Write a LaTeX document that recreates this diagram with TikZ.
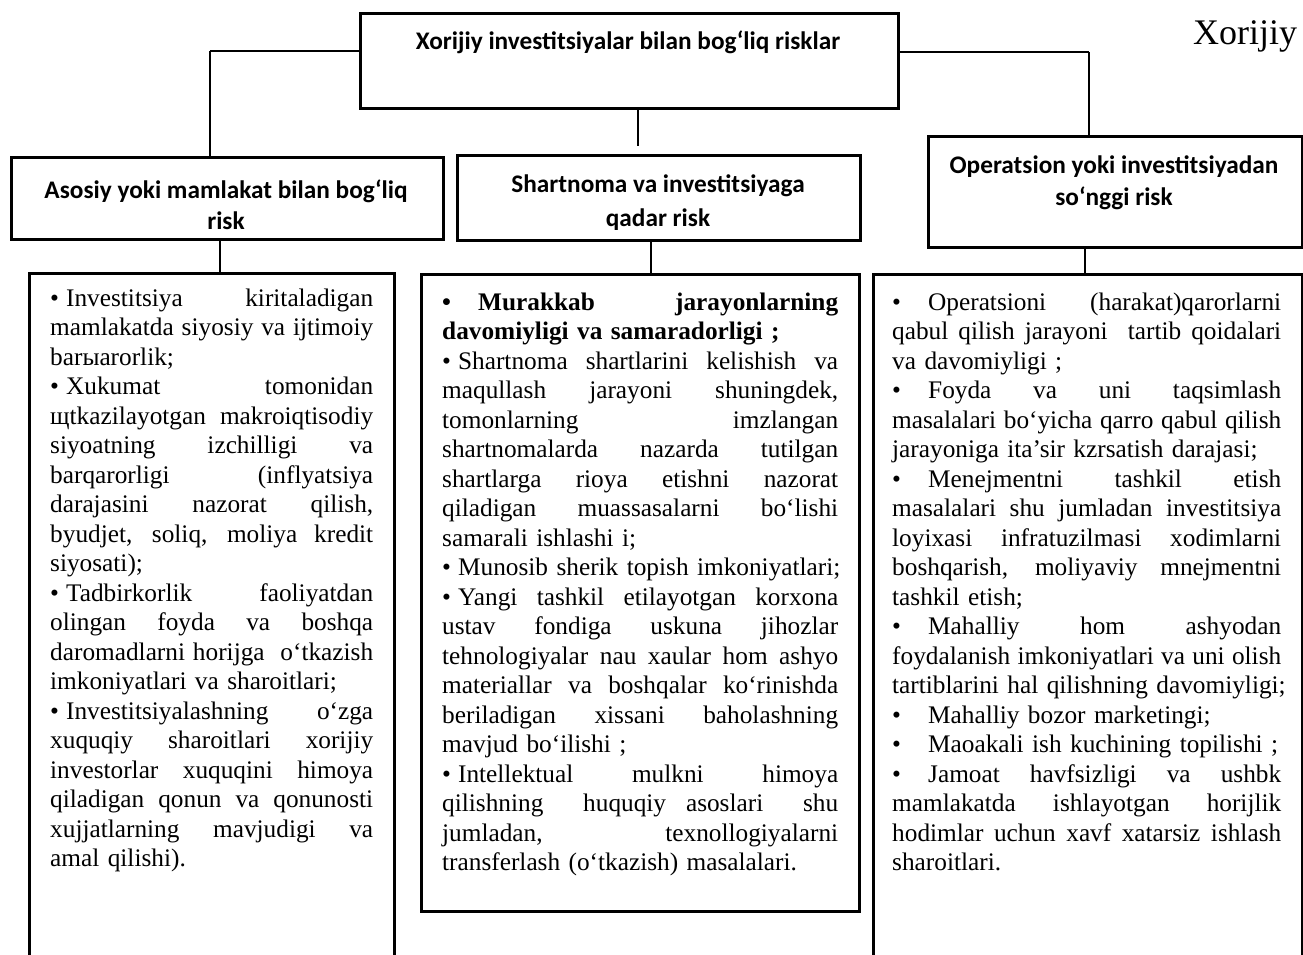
\documentclass[tikz,border=0pt]{standalone}
\usepackage{fontspec}
\setmainfont{Liberation Serif}
\newfontfamily\hfont{Carlito}
\newcommand\jl[1]{\noindent\hbox to\hsize{\spaceskip=0.25em plus 1fil\relax\xspaceskip=\spaceskip\strut#1}\par}
\newcommand\el[1]{\noindent\hbox to\hsize{\strut#1\hfil}\par}
\newcommand\bu{•\hspace{0.28em}}
\newcommand\tb{\makebox[36pt][l]{•}}
\begin{document}
\begin{tikzpicture}[x=1pt,y=-1pt,
  box/.style={draw, line width=2.8pt, inner sep=0pt, anchor=north west},
  conn/.style={line width=1.6pt},
  thickconn/.style={line width=2.8pt},
  hdr/.style={font=\hfont\bfseries\fontsize{25.3}{30}\selectfont, inner sep=0pt, anchor=base},
  body/.style={anchor=north west, inner sep=0pt, align=left,
    font=\fontsize{25.3}{29.5}\selectfont\setlength\parindent{0pt}\setlength\parskip{0pt}}]
\useasboundingbox (0,0) rectangle (1303,955);

% boxes
\node[box, minimum width=538pt, minimum height=95pt] (top) at (359,12) {};
\node[box, minimum width=432pt, minimum height=82pt] (lh) at (10,156) {};
\node[box, minimum width=403pt, minimum height=85pt] (mh) at (456,154) {};
\node[box, minimum width=373.5pt, minimum height=111pt] (rh) at (927,135) {};
\node[box, minimum width=365pt, minimum height=703pt] (lb) at (28,272) {};
\node[box, minimum width=438pt, minimum height=637pt] (mb) at (420,273) {};
\node[box, minimum width=428.5pt, minimum height=702pt] (rb) at (872,273) {};

% texts
\node[hdr] (ttop) at (628,50) {Xorijiy investitsiyalar bilan bog‘liq risklar};
\node[hdr] (tlh1) at (226,198) {Asosiy yoki mamlakat bilan bog‘liq};
\node[hdr] (tlh2) at (226,229) {risk};
\node[hdr] (tmh1) at (658,192) {Shartnoma va investitsiyaga};
\node[hdr] (tmh2) at (658,226) {qadar risk};
\node[hdr] (trh1) at (1114,173) {Operatsion yoki investitsiyadan};
\node[hdr] (trh2) at (1114,205) {so‘nggi risk};
\node[anchor=base west, inner sep=0pt, font=\fontsize{36}{40}\selectfont] (xr) at (1193,45) {Xorijiy};

% connectors
\coordinate (cl) at (210,51);
\coordinate (cr) at (1089,52);
\coordinate (cm) at (638,146);
\draw[thickconn] (top.west |- cl) -- (cl);
\draw[conn] (cl) -- (cl |- lh.north);
\draw[thickconn] (top.east |- cr) -- (cr);
\draw[conn] (cr) -- (cr |- rh.north);
\draw[conn] (top.south -| cm) -- (cm);
\draw[conn] (lh.south -| 220,0) -- (lb.north -| 220,0);
\draw[conn] (mh.south -| 651,0) -- (mb.north -| 651,0);
\draw[conn] (rh.south -| 1085,0) -- (rb.north -| 1085,0);

% body texts
\node[body, text width=323pt] (tlb) at (50,285.4) {%
\jl{\bu Investitsiya kiritaladigan}
\jl{mamlakatda siyosiy va ijtimoiy}
\el{barыarorlik;}
\jl{\bu Xukumat tomonidan}
\jl{щtkazilayotgan makroiqtisodiy}
\jl{siyoatning izchilligi va}
\jl{barqarorligi (inflyatsiya}
\jl{darajasini nazorat qilish,}
\jl{byudjet, soliq, moliya kredit}
\el{siyosati);}
\jl{\bu Tadbirkorlik faoliyatdan}
\jl{olingan foyda va boshqa}
\jl{daromadlarni horijga\ \ o‘tkazish}
\el{imkoniyatlari va sharoitlari;}
\jl{\bu Investitsiyalashning o‘zga}
\jl{xuquqiy sharoitlari xorijiy}
\jl{investorlar xuquqini himoya}
\jl{qiladigan qonun va qonunosti}
\jl{xujjatlarning mavjudigi va}
\el{amal qilishi).}};

\node[body, text width=396pt] (tmb) at (442,289.4) {%
\jl{\bfseries\tb Murakkab jarayonlarning}
\el{\bfseries davomiyligi va samaradorligi ;}
\jl{\bu Shartnoma shartlarini kelishish va}
\jl{maqullash jarayoni shuningdek,}
\jl{tomonlarning imzlangan}
\jl{shartnomalarda nazarda tutilgan}
\jl{shartlarga rioya etishni nazorat}
\jl{qiladigan muassasalarni bo‘lishi}
\el{samarali ishlashi i;}
\el{\bu Munosib sherik topish imkoniyatlari;}
\jl{\bu Yangi tashkil etilayotgan korxona}
\jl{ustav fondiga uskuna jihozlar}
\jl{tehnologiyalar nau xaular hom ashyo}
\jl{materiallar va boshqalar ko‘rinishda}
\jl{beriladigan xissani baholashning}
\el{mavjud bo‘ilishi ;}
\jl{\bu Intellektual mulkni himoya}
\jl{qilishning\ \ huquqiy asoslari\ \ shu}
\jl{jumladan, texnollogiyalarni}
\el{transferlash (o‘tkazish) masalalari.}};

\node[body, text width=389pt] (trb) at (892,289.4) {%
\jl{\tb Operatsioni (harakat)qarorlarni}
\jl{qabul qilish jarayoni\ \ tartib qoidalari}
\el{va davomiyligi ;}
\jl{\tb Foyda va uni taqsimlash}
\jl{masalalari bo‘yicha qarro qabul qilish}
\el{jarayoniga ita’sir kzrsatish darajasi;}
\jl{\tb Menejmentni tashkil etish}
\jl{masalalari shu jumladan investitsiya}
\jl{loyixasi infratuzilmasi xodimlarni}
\jl{boshqarish, moliyaviy mnejmentni}
\el{tashkil etish;}
\jl{\tb Mahalliy hom ashyodan}
\jl{foydalanish imkoniyatlari va uni olish}
\el{tartiblarini hal qilishning davomiyligi;}
\el{\tb Mahalliy bozor marketingi;}
\el{\tb Maoakali ish kuchining topilishi ;}
\jl{\tb Jamoat havfsizligi va ushbk}
\jl{mamlakatda ishlayotgan horijlik}
\jl{hodimlar uchun xavf xatarsiz ishlash}
\el{sharoitlari.}};
\end{tikzpicture}
\end{document}
